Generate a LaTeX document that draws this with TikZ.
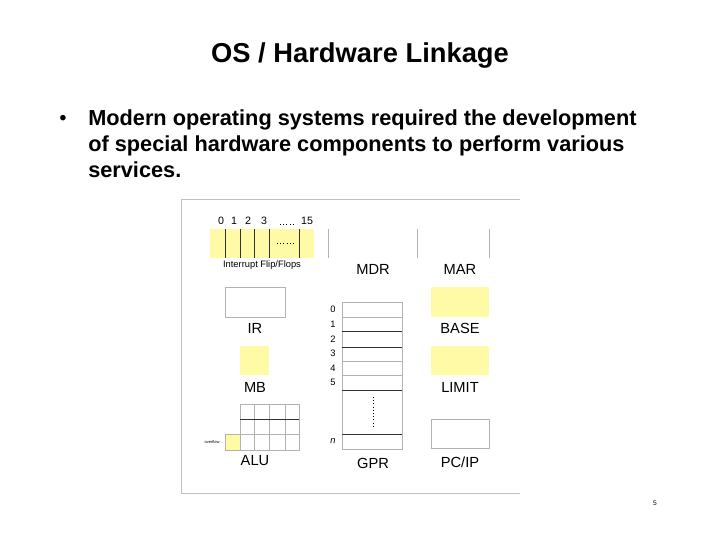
\documentclass[tikz,border=0pt]{standalone}
\usepackage{fontspec}
\setmainfont{Liberation Sans}
\begin{document}
\begin{tikzpicture}[x=0.75pt,y=-0.75pt,
  reg/.style={draw=gray!60,line width=0.5pt},
  yel/.style={fill=yellow!35},
  lab/.style={font=\fontsize{11}{12}\selectfont,inner sep=0pt},
  small/.style={font=\fontsize{7}{8}\selectfont,inner sep=0pt},
  dk/.style={draw=black!80,line width=0.6pt},
  lt/.style={draw=gray!60,line width=0.5pt}]
\useasboundingbox (0,0) rectangle (720,540);
\node[font=\bfseries\fontsize{20.5}{24}\selectfont] (title) at (360,55) {OS / Hardware Linkage};
\node[anchor=north west,align=left,font=\bfseries\fontsize{16.3}{19.5}\selectfont,inner sep=0pt] (txt) at (88,109)
 {Modern operating systems required the development\\of special hardware components to perform various\\services.};
\node[font=\bfseries\fontsize{14.5}{19.5}\selectfont] (bul) at (63,120) {•};
% frame
\draw[gray!50,line width=0.7pt] (520,199) -- (181,199) -- (181,493) -- (520,493);
% interrupt flip flops
\fill[yel] (210,229) rectangle (314,258);
\foreach \x in {225,240,254,269,299}{\draw[dk] (\x,229) -- (\x,258);}
\draw[dotted,thin] (277,243) -- (295,243);
\foreach \x/\t in {221/0,234/1,248/2,264/3,307/15}{\node[small,font=\fontsize{8}{9}\selectfont] at (\x,221) {\t};}
\draw[dotted,thin] (280,224) -- (295,224);
\node[small] (iff) at (262,265) {Interrupt Flip/Flops};
% MDR / MAR
\draw[lt] (328,229) -- (328,258);
\draw[lt] (417,229) -- (417,258);
\draw[lt] (489,229) -- (489,258);
\node[lab] (mdr) at (373,269) {MDR};
\node[lab] (mar) at (460,269) {MAR};
% IR
\draw[reg] (225,287) rectangle (285,317);
\node[lab] (ir) at (255,328) {IR};
% BASE, LIMIT, PC
\filldraw[yel,draw=none] (431,287) rectangle (489,317);
\node[lab] (base) at (460,328) {BASE};
\filldraw[yel,draw=none] (431,346) rectangle (489,375);
\node[lab] (limit) at (460,387) {LIMIT};
\draw[reg] (431,419) rectangle (489,448);
\node[lab] (pc) at (460,462) {PC/IP};
% MB
\fill[yel] (240,346) rectangle (269,375);
\node[lab] (mb) at (255,387) {MB};
% GPR
\draw[reg] (342,302) rectangle (402,449);
\foreach \y in {317,361,375}{\draw[lt] (342,\y) -- (402,\y);}
\foreach \y in {331,347,390,434}{\draw[dk] (342,\y) -- (402,\y);}
\foreach \y/\t in {309/0,324/1,339/2,353/3,368/4,382/5}{\node[small] at (333,\y) {\t};}
\node[small,font=\itshape\fontsize{7}{8}\selectfont] at (333,441) {n};
\draw[dotted,thin] (373,397) -- (373,427);
\node[lab] (gpr) at (373,463) {GPR};
% ALU
\draw[reg] (240,404) rectangle (299,450);
\foreach \x in {254,269,285}{\draw[lt] (\x,404) -- (\x,450);}
\draw[dk] (240,419) -- (299,419);
\draw[lt] (240,434) -- (299,434);
\filldraw[yel,draw=gray!60,line width=0.5pt] (225,434) rectangle (240,450);
\node[inner sep=0pt,font=\fontsize{3}{3}\selectfont] (ovf) at (212,442) {overflow};
\node[lab] (alu) at (255,461) {ALU};
\node[inner sep=0pt,font=\fontsize{5}{6}\selectfont] (pg) at (655,503) {5};
\end{tikzpicture}
\end{document}
